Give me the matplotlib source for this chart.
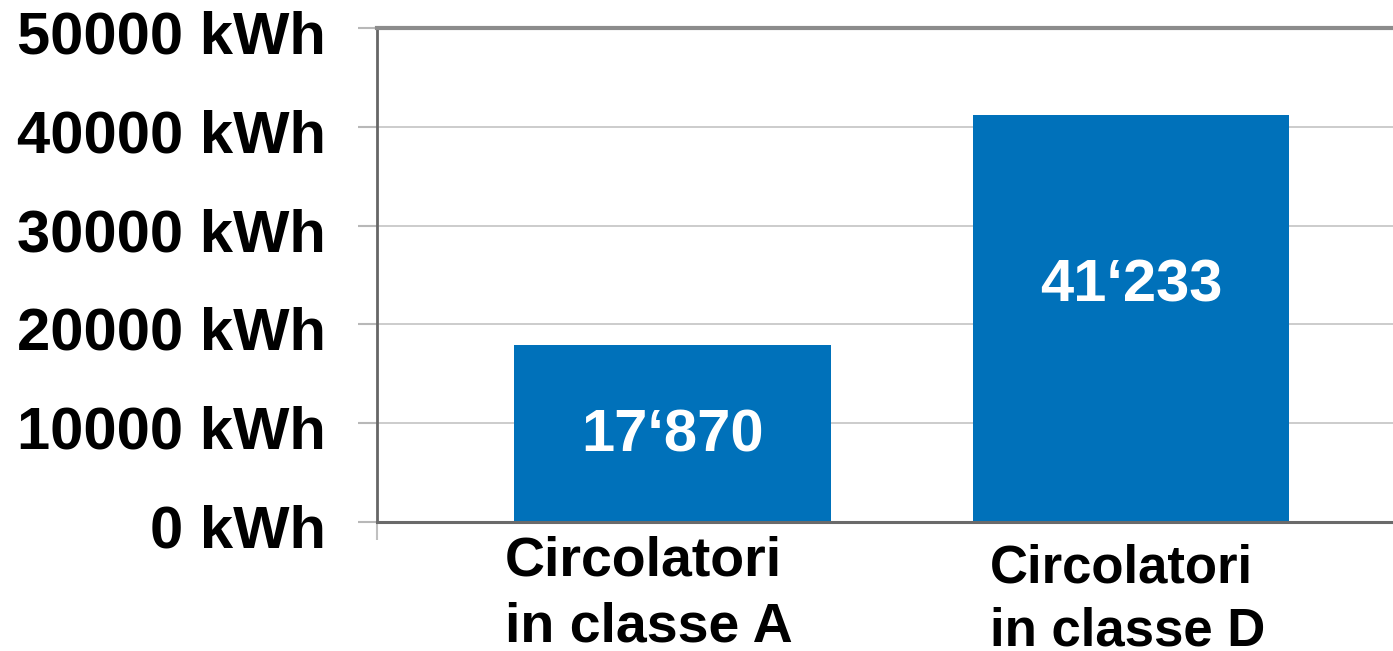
import matplotlib.pyplot as plt
from matplotlib.transforms import blended_transform_factory, ScaledTranslation

categories = ["Circolatori\nin classe A", "Circolatori\nin classe D"]
values = [17870, 41233]
value_labels = ["17\u2018870", "41\u2018233"]
yticks = [0, 10000, 20000, 30000, 40000, 50000]
ytick_labels = [f"{v} kWh" for v in yticks]

plt.rcParams["font.family"] = ["Liberation Sans", "DejaVu Sans"]
plt.rcParams["font.weight"] = "bold"

fig = plt.figure(figsize=(13.93, 6.51), dpi=100)
ax = fig.add_axes([377 / 1393, 129 / 651, 1 - 377 / 1393, (522 - 28) / 651])

xpos = list(range(len(values)))
bars = ax.bar(xpos, values, width=0.69, color="#0071BA", zorder=2)

ax.set_xlim(-0.6445, 1.571)
ax.set_ylim(0, 50000)
ax.set_yticks(yticks)
ax.set_yticklabels(ytick_labels, fontsize=43, fontweight="bold")
ax.tick_params(axis="y", length=14, width=1.5, color="#b8b8b8", pad=23)
# labels sit a little below their gridlines in the original
shift = ScaledTranslation(0, -4 / 100, fig.dpi_scale_trans)
for lab in ax.get_yticklabels():
    lab.set_transform(lab.get_transform() + shift)
ax.set_xticks([-0.6445])
ax.set_xticklabels([""])
ax.tick_params(axis="x", length=13, width=1.5, color="#c0c0c0")

ax.grid(axis="y", color="#c8c8c8", linewidth=1.3, zorder=0)
ax.set_axisbelow(True)

ax.spines["right"].set_visible(False)
ax.spines["left"].set_color("#666666")
ax.spines["left"].set_linewidth(2)
ax.spines["bottom"].set_color("#6a6a6a")
ax.spines["bottom"].set_linewidth(2.2)
ax.spines["top"].set_color("#8c8c8c")
ax.spines["top"].set_linewidth(3)

# value labels inside the bars
label_frac = [0.487, 0.58]
for b, v, lab, f in zip(bars, values, value_labels, label_frac):
    ax.text(b.get_x() + b.get_width() / 2, v * f, lab, color="white",
            fontsize=43, fontweight="bold", ha="center", va="center", zorder=3)

# category labels below the axis
trans = blended_transform_factory(ax.transData, ax.transAxes)
cat_x = [-0.365, 0.6925]
cat_y = [-0.027, -0.043]
cat_size = [40, 38]
for x, y, s, c in zip(cat_x, cat_y, cat_size, categories):
    ax.text(x, y, c, transform=trans, ha="left", va="top", fontsize=s,
            fontweight="bold", linespacing=1.35, clip_on=False)

fig.savefig("out.png", dpi=100)
